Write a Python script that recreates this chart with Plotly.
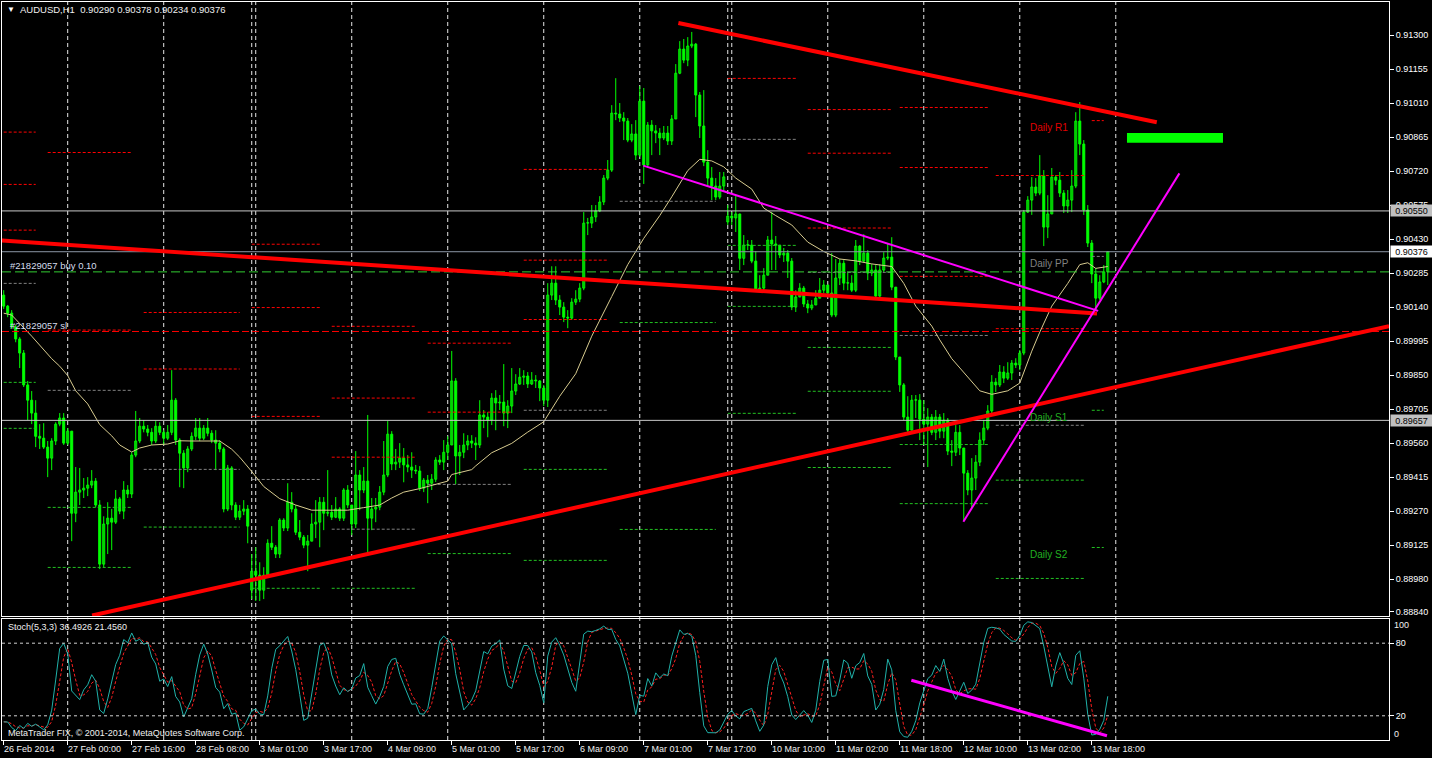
import plotly.graph_objects as go
import pandas as pd

# ---------------- DATA (AUDUSD H1) ----------------
first_open = 0.90191
gap_opens = {62: 0.88933, 181: 0.90503}

closes = [
0.90144,0.90114,0.90055,0.90004,0.89944,0.89808,0.89743,0.89688,0.89589,0.89581,
0.89543,0.89496,0.89569,0.89641,0.89667,0.89560,0.89611,0.89261,0.89351,0.89360,
0.89368,0.89381,0.89398,0.89296,0.89044,0.89215,0.89240,0.89223,0.89322,0.89270,
0.89360,0.89343,0.89509,0.89569,0.89632,0.89620,0.89606,0.89569,0.89632,0.89606,
0.89581,0.89606,0.89743,0.89573,0.89517,0.89454,0.89535,0.89589,0.89624,0.89581,
0.89624,0.89602,0.89573,0.89560,0.89535,0.89279,0.89454,0.89296,0.89244,0.89270,
0.89279,0.89206,0.89014,0.88997,0.88933,0.88997,0.89133,0.89116,0.89087,0.89232,
0.89198,0.89308,0.89279,0.89180,0.89159,0.89125,0.89142,0.89215,0.89223,0.89308,
0.89261,0.89265,0.89244,0.89279,0.89240,0.89360,0.89296,0.89215,0.89424,0.89360,
0.89398,0.89240,0.89279,0.89287,0.89351,0.89424,0.89598,0.89471,0.89479,0.89496,
0.89467,0.89458,0.89445,0.89441,0.89368,0.89402,0.89389,0.89406,0.89488,0.89479,
0.89521,0.89552,0.89825,0.89505,0.89521,0.89552,0.89569,0.89560,0.89552,0.89680,
0.89671,0.89658,0.89752,0.89731,0.89735,0.89688,0.89718,0.89782,0.89812,0.89841,
0.89846,0.89812,0.89829,0.89825,0.89795,0.89743,0.90191,0.90242,0.90170,0.90140,
0.90097,0.90093,0.90161,0.90174,0.90221,0.90498,0.90498,0.90524,0.90550,0.90588,
0.90690,0.90724,0.90967,0.90963,0.90946,0.90933,0.90852,0.90878,0.90788,0.91018,
0.90746,0.90916,0.90891,0.90882,0.90861,0.90882,0.90848,0.90942,0.91137,0.91240,
0.91193,0.91253,0.91261,0.91044,0.90912,0.90758,0.90690,0.90656,0.90609,0.90656,
0.90695,0.90528,0.90520,0.90537,0.90348,0.90404,0.90404,0.90336,0.90217,0.90221,
0.90276,0.90426,0.90409,0.90404,0.90362,0.90370,0.90336,0.90140,0.90183,0.90221,
0.90153,0.90136,0.90149,0.90178,0.90212,0.90234,0.90200,0.90106,0.90264,0.90327,
0.90242,0.90242,0.90212,0.90400,0.90336,0.90370,0.90285,0.90298,0.90187,0.90298,
0.90349,0.90353,0.90225,0.89927,0.89808,0.89671,0.89615,0.89743,0.89743,0.89662,
0.89641,0.89671,0.89606,0.89671,0.89611,0.89658,0.89526,0.89521,0.89606,0.89539,
0.89432,0.89360,0.89411,0.89479,0.89573,0.89624,0.89697,0.89820,0.89808,0.89863,
0.89837,0.89859,0.89901,0.89893,0.89944,0.90545,0.90596,0.90652,0.90626,0.90699,
0.90481,0.90537,0.90694,0.90681,0.90626,0.90571,0.90596,0.90656,0.90933,0.90835,
0.90554,0.90413,0.90281,0.90178,0.90247,0.90290,0.90376]

highs = [
0.90212,0.90149,0.90127,0.90064,0.90012,0.89957,0.89825,0.89782,0.89743,0.89641,
0.89645,0.89569,0.89581,0.89649,0.89688,0.89688,0.89624,0.89611,0.89458,0.89454,
0.89411,0.89415,0.89445,0.89411,0.89317,0.89248,0.89308,0.89279,0.89360,0.89330,
0.89398,0.89381,0.89521,0.89697,0.89667,0.89658,0.89637,0.89624,0.89654,0.89649,
0.89615,0.89637,0.89871,0.89752,0.89581,0.89530,0.89547,0.89606,0.89667,0.89667,
0.89637,0.89667,0.89615,0.89615,0.89573,0.89543,0.89467,0.89462,0.89308,0.89296,
0.89317,0.89296,0.89087,0.89116,0.89052,0.89031,0.89150,0.89206,0.89125,0.89240,
0.89240,0.89389,0.89351,0.89296,0.89232,0.89168,0.89168,0.89261,0.89317,0.89330,
0.89330,0.89445,0.89296,0.89330,0.89287,0.89368,0.89381,0.89296,0.89526,0.89445,
0.89458,0.89680,0.89326,0.89326,0.89377,0.89569,0.89654,0.89611,0.89535,0.89560,
0.89539,0.89509,0.89521,0.89467,0.89462,0.89411,0.89424,0.89428,0.89500,0.89509,
0.89573,0.89589,0.89953,0.89837,0.89552,0.89602,0.89594,0.89594,0.89585,0.89743,
0.89701,0.89692,0.89773,0.89786,0.89765,0.89897,0.89743,0.89880,0.89854,0.89880,
0.89871,0.89863,0.89863,0.89850,0.89829,0.89808,0.90242,0.90314,0.90314,0.90191,
0.90161,0.90127,0.90178,0.90212,0.90242,0.90545,0.90520,0.90575,0.90575,0.90613,
0.90703,0.90767,0.91001,0.91116,0.91010,0.90971,0.90946,0.90920,0.90937,0.91082,
0.91074,0.90929,0.90937,0.90916,0.90903,0.90912,0.90912,0.90959,0.91176,0.91274,
0.91283,0.91291,0.91313,0.91266,0.91057,0.91065,0.90809,0.90737,0.90690,0.90716,
0.90716,0.90575,0.90545,0.90617,0.90537,0.90447,0.90426,0.90426,0.90379,0.90276,
0.90306,0.90443,0.90545,0.90443,0.90404,0.90392,0.90383,0.90349,0.90212,0.90242,
0.90230,0.90170,0.90170,0.90212,0.90264,0.90255,0.90234,0.90370,0.90345,0.90345,
0.90340,0.90289,0.90276,0.90426,0.90404,0.90451,0.90383,0.90323,0.90319,0.90323,
0.90374,0.90409,0.90438,0.90225,0.89927,0.89816,0.89760,0.89765,0.89765,0.89769,
0.89743,0.89709,0.89684,0.89701,0.89684,0.89688,0.89667,0.89573,0.89637,0.89637,
0.89539,0.89445,0.89496,0.89509,0.89606,0.89658,0.89722,0.89850,0.89837,0.89893,
0.89888,0.89905,0.89914,0.89922,0.89957,0.90554,0.90613,0.90694,0.90690,0.90788,
0.90724,0.90617,0.90733,0.90703,0.90716,0.90639,0.90639,0.90724,0.90971,0.91014,
0.90852,0.90575,0.90426,0.90306,0.90276,0.90319,0.90378]

lows = [
0.90132,0.90097,0.90047,0.89990,0.89880,0.89799,0.89658,0.89641,0.89543,0.89535,
0.89535,0.89415,0.89445,0.89552,0.89632,0.89552,0.89552,0.89142,0.89223,0.89296,
0.89326,0.89334,0.89368,0.89287,0.89023,0.89031,0.89087,0.89104,0.89215,0.89257,
0.89236,0.89326,0.89326,0.89500,0.89560,0.89606,0.89589,0.89552,0.89560,0.89594,
0.89552,0.89573,0.89594,0.89552,0.89372,0.89368,0.89436,0.89526,0.89573,0.89569,
0.89573,0.89589,0.89560,0.89445,0.89521,0.89265,0.89270,0.89274,0.89232,0.89232,
0.89253,0.89133,0.88895,0.88887,0.88887,0.88895,0.88997,0.89104,0.89070,0.89070,
0.89185,0.89185,0.89265,0.89168,0.89146,0.89112,0.89014,0.89146,0.89155,0.89116,
0.89189,0.89248,0.89232,0.89240,0.89228,0.89228,0.89283,0.89168,0.89198,0.89274,
0.89347,0.89095,0.89189,0.89223,0.89274,0.89338,0.89415,0.89445,0.89445,0.89454,
0.89393,0.89436,0.89411,0.89428,0.89356,0.89351,0.89304,0.89360,0.89394,0.89467,
0.89445,0.89488,0.89552,0.89385,0.89424,0.89496,0.89530,0.89539,0.89488,0.89539,
0.89624,0.89585,0.89637,0.89615,0.89701,0.89632,0.89624,0.89688,0.89765,0.89808,
0.89808,0.89795,0.89808,0.89795,0.89739,0.89718,0.89714,0.90170,0.90149,0.90106,
0.90076,0.90050,0.90085,0.90149,0.90161,0.90212,0.90447,0.90477,0.90503,0.90545,
0.90575,0.90681,0.90716,0.90937,0.90929,0.90852,0.90843,0.90843,0.90767,0.90780,
0.90665,0.90733,0.90788,0.90839,0.90788,0.90852,0.90831,0.90831,0.90942,0.91133,
0.91180,0.91167,0.91244,0.90950,0.90861,0.90741,0.90656,0.90596,0.90596,0.90600,
0.90631,0.90490,0.90490,0.90460,0.90298,0.90319,0.90383,0.90327,0.90208,0.90204,
0.90212,0.90298,0.90298,0.90298,0.90349,0.90332,0.90264,0.90127,0.90119,0.90183,
0.90140,0.90114,0.90127,0.90157,0.90178,0.90200,0.90183,0.90097,0.90097,0.90234,
0.90212,0.90212,0.90204,0.90204,0.90319,0.90332,0.90255,0.90272,0.90170,0.90178,
0.90289,0.90340,0.90212,0.89914,0.89778,0.89658,0.89606,0.89615,0.89667,0.89573,
0.89552,0.89458,0.89594,0.89573,0.89581,0.89581,0.89509,0.89462,0.89505,0.89509,
0.89228,0.89338,0.89283,0.89360,0.89462,0.89552,0.89615,0.89688,0.89778,0.89799,
0.89816,0.89829,0.89829,0.89880,0.89871,0.89935,0.90541,0.90533,0.90613,0.90617,
0.90400,0.90434,0.90537,0.90660,0.90609,0.90541,0.90541,0.90545,0.90647,0.90788,
0.90533,0.90396,0.90242,0.90127,0.90170,0.90242,0.90234]

# moving average (bar index, value)
ma_bar = [0,2,7,12,14,16,18,21,24,27,29,32,34,37,41,44,47,51,54,57,59,62,65,69,73,77,82,86,90,94,
          97,100,104,108,111,112,117,118,122,127,131,135,139,143,147,152,156,160,164,167,171,174,177,
          180,183,187,190,193,197,201,205,209,213,217,222,225,228,232,234,237,241,244,247,251,254,257,
          259,262,266,269,271,273,276]
ma_val = [0.90114,0.90106,0.90016,0.89920,0.89888,0.89848,0.89783,0.89727,0.89639,0.89591,0.89552,
          0.89522,0.89539,0.89552,0.89556,0.89570,0.89569,0.89570,0.89569,0.89534,0.89500,0.89439,
          0.89375,0.89323,0.89296,0.89274,0.89274,0.89274,0.89285,0.89296,0.89326,0.89351,0.89366,
          0.89383,0.89398,0.89426,0.89447,0.89463,0.89519,0.89559,0.89607,0.89651,0.89760,0.89856,
          0.90016,0.90185,0.90321,0.90433,0.90530,0.90610,0.90722,0.90770,0.90763,0.90738,0.90690,
          0.90643,0.90562,0.90530,0.90490,0.90417,0.90377,0.90345,0.90337,0.90324,0.90313,0.90241,
          0.90144,0.90059,0.90000,0.89920,0.89840,0.89783,0.89768,0.89783,0.89816,0.89952,0.90033,
          0.90144,0.90241,0.90321,0.90329,0.90305,0.90313]

# daily pivot segments
piv_start = [0, 11, 35, 62, 82, 106, 130, 154, 181, 201, 224, 248, 272]
piv_end   = [8, 32, 59, 79, 103, 127, 151, 178, 198, 222, 246, 270, 275]
piv_res = [[0.90886,0.90663,0.90468],[0.90799,0.90042],[0.90117,0.89876],[0.90408,0.90138,0.89674],
           [0.90058,0.89752,0.89500],[0.89986,0.89692],[0.90727,0.90340,0.90087],[],[0.91115],
           [0.90982,0.90796,0.90477],[0.90991,0.90735,0.90271],[0.90701,0.90048],[0.90935]]
piv_pp = [0.90241,0.89785,0.89448,0.89405,0.89193,0.89384,0.89700,0.90591,0.90855,0.90288,0.90019,0.89636,0.90356]
piv_sup = [[0.89819,0.89623],[0.89286,0.89030],[0.89202],[0.88941],[0.88941],[0.89089],[0.89448,0.89060],
           [0.90074,0.89192],[0.90403,0.90143,0.89687],[0.89968,0.89781,0.89456],[0.89554,0.89302],
           [0.89402,0.88983],[0.89700,0.89115]]

day_separators = [16, 40, 62, 63, 87, 111, 135, 159, 181, 182, 206, 230, 254, 278]
x_tick_bars = [0,16,32,48,64,80,96,112,128,144,160,176,192,208,224,240,256,272]
x_tick_text = ["26 Feb 2014","27 Feb 00:00","27 Feb 16:00","28 Feb 08:00","3 Mar 01:00","3 Mar 17:00",
               "4 Mar 09:00","5 Mar 01:00","5 Mar 17:00","6 Mar 09:00","7 Mar 01:00","7 Mar 17:00",
               "10 Mar 10:00","11 Mar 02:00","11 Mar 18:00","12 Mar 10:00","13 Mar 02:00","13 Mar 18:00"]
price_ticks = [0.91300,0.91155,0.91010,0.90865,0.90720,0.90575,0.90430,0.90285,0.90140,0.89995,
               0.89850,0.89705,0.89560,0.89415,0.89270,0.89125,0.88980,0.88840]

hlines_gray = [0.90550, 0.89657]
bid_price = 0.90376
buy_price = 0.90290
sl_price = 0.90036

# trend lines: (bar0, price0, bar1, price1)
red_lines = [(168.65, 0.91351, 288.25, 0.90928),
             (-0.5, 0.90424, 273.3, 0.90113),
             (22.1, 0.88825, 346.3, 0.90059)]
magenta_lines = [(159.9, 0.90743, 273.6, 0.90124),
                 (239.9, 0.89225, 293.9, 0.90710)]
stoch_line = (226.9, 49.4, 275.8, 3.5)
target_box = (280.8, 0.90841, 304.8, 0.90882)

# ---------------- BUILD ----------------
n = len(closes)
opens = [first_open] + closes[:-1]
for k, v in gap_opens.items():
    opens[k] = v
highs = [max(h, o, c) for h, o, c in zip(highs, opens, closes)]
lows = [min(l, o, c) for l, o, c in zip(lows, opens, closes)]

df = pd.DataFrame({"o": opens, "h": highs, "l": lows, "c": closes})
hh = df.h.rolling(5, min_periods=1).max()
ll = df.l.rolling(5, min_periods=1).min()
num = (df.c - ll).rolling(3, min_periods=1).sum()
den = (hh - ll).rolling(3, min_periods=1).sum()
stk = 100 * num / den
std = stk.rolling(3, min_periods=1).mean()

LIME = "#00ff00"
fig = go.Figure()

# wicks
wx, wy = [], []
for i in range(n):
    wx += [i, i, None]
    wy += [lows[i], highs[i], None]
fig.add_trace(go.Scatter(x=wx, y=wy, mode="lines", line=dict(color=LIME, width=1),
                         xaxis="x", yaxis="y", hoverinfo="skip"))

MINH = 0.00002
for up in (True, False):
    idx = [i for i in range(n) if (closes[i] >= opens[i]) == up]
    fig.add_trace(go.Bar(
        x=idx,
        base=[min(opens[i], closes[i]) for i in idx],
        y=[max(abs(closes[i] - opens[i]), MINH) for i in idx],
        width=0.5,
        marker=dict(color="#000000" if up else LIME, line=dict(color=LIME, width=1)),
        xaxis="x", yaxis="y", hoverinfo="skip"))

# pivots
def seg_trace(levels_per_seg, color):
    xs, ys = [], []
    for s, e, lv in zip(piv_start, piv_end, levels_per_seg):
        for v in lv:
            xs += [s, e, None]
            ys += [v, v, None]
    return go.Scatter(x=xs, y=ys, mode="lines", line=dict(color=color, width=1, dash="3px,2px"),
                      xaxis="x", yaxis="y", hoverinfo="skip")

fig.add_trace(seg_trace(piv_res, "#ff0000"))
fig.add_trace(seg_trace([[p] for p in piv_pp], "#808080"))
fig.add_trace(seg_trace(piv_sup, "#22c022"))

# MA
fig.add_trace(go.Scatter(x=ma_bar, y=ma_val, mode="lines", line=dict(color="#d8cc90", width=1),
                         xaxis="x", yaxis="y", hoverinfo="skip"))

# stochastic
fig.add_trace(go.Scatter(x=list(range(n)), y=std, mode="lines",
                         line=dict(color="#ff2020", width=1, dash="3px,2px"),
                         xaxis="x2", yaxis="y2", hoverinfo="skip"))
fig.add_trace(go.Scatter(x=list(range(n)), y=stk, mode="lines",
                         line=dict(color="#20b2aa", width=1),
                         xaxis="x2", yaxis="y2", hoverinfo="skip"))

shapes = []
for b in day_separators:
    shapes.append(dict(type="line", xref="x", yref="paper", x0=b, x1=b, y0=0, y1=1,
                       line=dict(color="#e6e6e6", width=1, dash="4px,3px"), layer="below"))
for p in hlines_gray:
    shapes.append(dict(type="line", xref="paper", yref="y", x0=0, x1=1, y0=p, y1=p,
                       line=dict(color="#c8c8c8", width=1)))
shapes.append(dict(type="line", xref="paper", yref="y", x0=0, x1=1, y0=bid_price, y1=bid_price,
                   line=dict(color="#8c96a6", width=1)))
shapes.append(dict(type="line", xref="paper", yref="y", x0=0, x1=1, y0=buy_price, y1=buy_price,
                   line=dict(color="#32cd32", width=1, dash="9px,4px")))
shapes.append(dict(type="line", xref="paper", yref="y", x0=0, x1=1, y0=sl_price, y1=sl_price,
                   line=dict(color="#ff0000", width=1, dash="7px,3px")))
for v in (20, 80):
    shapes.append(dict(type="line", xref="paper", yref="y2", x0=0, x1=1, y0=v, y1=v,
                       line=dict(color="#d0d0d0", width=1, dash="3px,3px")))
for (a, pa, b, pb) in red_lines:
    shapes.append(dict(type="line", xref="x", yref="y", x0=a, y0=pa, x1=b, y1=pb,
                       line=dict(color="#ff0000", width=4)))
for (a, pa, b, pb) in magenta_lines:
    shapes.append(dict(type="line", xref="x", yref="y", x0=a, y0=pa, x1=b, y1=pb,
                       line=dict(color="#ff00ff", width=2)))
a, va, b, vb = stoch_line
shapes.append(dict(type="line", xref="x2", yref="y2", x0=a, y0=va, x1=b, y1=vb,
                   line=dict(color="#ff00ff", width=3)))
a, pa, b, pb = target_box
shapes.append(dict(type="rect", xref="x", yref="y", x0=a, y0=pa, x1=b, y1=pb,
                   fillcolor="#00ff00", line=dict(width=0)))

W, H = 1432, 758
ML, MR, MT, MB = 2, 43, 2, 18
PW, PH = W - ML - MR, H - MT - MB

def pxx(px):
    return (px - ML) / PW

def pxy(py):
    return (H - MB - py) / PH

FONT = "Liberation Sans, Arial, sans-serif"
ann = []
def text(x, y, s, color="#ffffff", size=9, xref="paper", yref="paper", xanchor="left", **kw):
    ann.append(dict(x=x, y=y, xref=xref, yref=yref, text=s, showarrow=False, xanchor=xanchor,
                    yanchor="middle", font=dict(family=FONT, size=size, color=color), **kw))

text(pxx(5), pxy(10), "▼", size=8, color="#ffffff")
text(pxx(18), pxy(10), "AUDUSD,H1  0.90290 0.90378 0.90234 0.90376", color="#f0f0f0", size=9.5)
text(pxx(8), pxy(265), "#21829057 buy 0.10", color="#d4dcec", size=9.5)
text(pxx(8), pxy(325), "#21829057 sl", color="#d4dcec", size=9.5)
text(pxx(6), pxy(627), "Stoch(5,3,3) 36.4926 21.4560", color="#f0f0f0", size=9)
text(pxx(6), pxy(733), "MetaTrader FIX, © 2001-2014, MetaQuotes Software Corp.", color="#f0f0f0", size=9)

pivot_labels = [("Daily R1", 0.90935, "#e00000"), ("Daily PP", 0.90356, "#808080"),
                ("Daily S1", 0.89700, "#22b022"), ("Daily S2", 0.89115, "#22b022")]
for s, v, col in pivot_labels:
    text(256, v, s, color=col, size=10, xref="x", yref="y", yshift=-7)

for b, s in zip(x_tick_bars, x_tick_text):
    text(b, pxy(749), s, xref="x2", color="#f0f0f0", size=9, xshift=-2)

for v, bg in ((0.90550, "#c0c0c0"), (0.90376, "#ffffff"), (0.89657, "#c0c0c0")):
    ann.append(dict(x=1, y=v, xref="paper", yref="y", text=f"{v:.5f}", showarrow=False,
                    xanchor="left", yanchor="middle", xshift=1, bgcolor=bg, width=41, height=11,
                    borderpad=0, font=dict(family=FONT, size=9, color="#000000")))
for v, s in ((94.8, "100"), (4.9, "0")):
    text(1, v, s, yref="y2", xshift=3, color="#f0f0f0", size=9)

xr = [-0.425, 346.3]
axis_common = dict(showgrid=False, zeroline=False, showline=True, mirror=True,
                   linecolor="#ffffff", linewidth=1)
fig.update_layout(
    width=W, height=H, margin=dict(l=ML, r=MR, t=MT, b=MB, autoexpand=False),
    paper_bgcolor="#000000", plot_bgcolor="#000000", showlegend=False,
    barmode="overlay", hovermode=False,
    xaxis=dict(domain=[0, 1], range=xr, anchor="y", showticklabels=False, ticks="", **axis_common),
    yaxis=dict(domain=[(H - MB - 616) / PH, 1], range=[0.888229, 0.914407], side="right", anchor="x",
               tickvals=price_ticks, ticktext=[f"{v:.5f}" for v in price_ticks],
               ticks="outside", ticklen=4, tickcolor="#ffffff",
               tickfont=dict(family=FONT, size=9, color="#ffffff"), **axis_common),
    xaxis2=dict(domain=[0, 1], range=xr, anchor="y2", tickvals=x_tick_bars, showticklabels=False,
                ticks="outside", ticklen=4, tickcolor="#ffffff", **axis_common),
    yaxis2=dict(domain=[0, (H - MB - 619) / PH], range=[0, 100], side="right", anchor="x2",
                tickvals=[20, 80], ticktext=["20", "80"], ticks="outside", ticklen=4,
                tickcolor="#ffffff", tickfont=dict(family=FONT, size=9, color="#ffffff"),
                **axis_common),
    shapes=shapes, annotations=ann,
)

fig.write_html("out.html", config={"displayModeBar": False},
               post_script="document.body.style.margin='0px';document.body.style.background='#000';")
